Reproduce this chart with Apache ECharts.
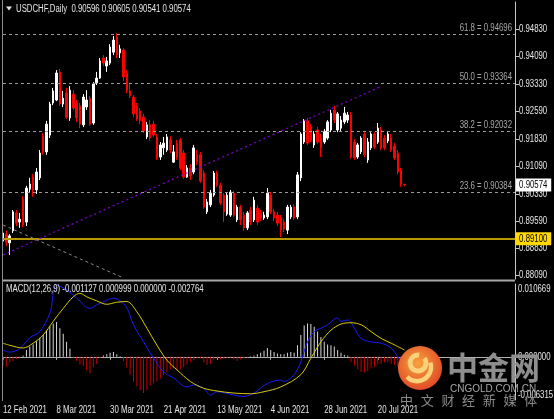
<!DOCTYPE html>
<html><head><meta charset="utf-8">
<script src="https://cdn.jsdelivr.net/npm/echarts@6/dist/echarts.min.js"></script>
<style>html,body{margin:0;padding:0;background:#000;}#c{width:554px;height:419px;}</style>
</head><body><div id="c"></div>
<script>
// ---------- data ----------
const symbolTitle = 'USDCHF,Daily';
const lastOHLC = ['0.90596', '0.90605', '0.90541', '0.90574'];
const startDate = [2021, 1, 12];     // first bar: 12 Feb 2021 (daily, weekdays)
const slotCount = 154;               // bars + empty right margin
const dateLabelEvery = 16;
const lastBarIndex = 120;
// [open, close, low, high]
const candles = [
[0.8904,0.8926,0.8890,0.8937],[0.8923,0.8901,0.8890,0.8932],[0.8899,0.8918,0.8866,0.8923],[0.8932,0.8984,0.8926,0.8989],
[0.8981,0.8953,0.8945,0.8989],[0.8956,0.8964,0.8940,0.8981],[0.9019,0.8948,0.8942,0.9027],[0.8956,0.9049,0.8945,0.9055],
[0.9046,0.9060,0.9038,0.9077],[0.9079,0.9044,0.9025,0.9087],[0.9044,0.9093,0.9033,0.9104],[0.9077,0.9145,0.9071,0.9153],
[0.9191,0.9148,0.9140,0.9200],[0.9148,0.9224,0.9140,0.9233],[0.9194,0.9279,0.9186,0.9285],[0.9282,0.9315,0.9276,0.9323],
[0.9290,0.9364,0.9287,0.9372],[0.9367,0.9279,0.9274,0.9375],[0.9279,0.9295,0.9271,0.9315],[0.9309,0.9243,0.9238,0.9323],
[0.9241,0.9317,0.9233,0.9328],[0.9306,0.9268,0.9263,0.9317],[0.9282,0.9241,0.9230,0.9290],[0.9274,0.9224,0.9213,0.9282],
[0.9222,0.9298,0.9216,0.9306],[0.9271,0.9290,0.9263,0.9317],[0.9295,0.9224,0.9219,0.9301],[0.9227,0.9334,0.9222,0.9339],
[0.9337,0.9350,0.9331,0.9367],[0.9350,0.9397,0.9348,0.9405],[0.9405,0.9391,0.9383,0.9413],[0.9383,0.9397,0.9367,0.9408],
[0.9391,0.9435,0.9386,0.9443],[0.9421,0.9454,0.9413,0.9465],[0.9462,0.9413,0.9405,0.9473],[0.9419,0.9430,0.9405,0.9441],
[0.9427,0.9353,0.9342,0.9432],[0.9364,0.9317,0.9309,0.9372],[0.9315,0.9301,0.9295,0.9337],[0.9298,0.9252,0.9243,0.9304],
[0.9274,0.9238,0.9233,0.9282],[0.9260,0.9233,0.9224,0.9268],[0.9243,0.9205,0.9200,0.9252],[0.9189,0.9222,0.9183,0.9230],
[0.9222,0.9186,0.9178,0.9235],[0.9224,0.9194,0.9189,0.9233],[0.9189,0.9131,0.9126,0.9197],[0.9134,0.9167,0.9126,0.9175],
[0.9159,0.9172,0.9140,0.9189],[0.9153,0.9189,0.9148,0.9197],[0.9181,0.9153,0.9145,0.9191],[0.9120,0.9148,0.9118,0.9167],
[0.9172,0.9134,0.9126,0.9181],[0.9181,0.9104,0.9098,0.9186],[0.9145,0.9079,0.9074,0.9153],[0.9079,0.9104,0.9077,0.9112],
[0.9104,0.9082,0.9071,0.9115],[0.9093,0.9159,0.9087,0.9167],[0.9140,0.9120,0.9112,0.9153],[0.9140,0.9068,0.9063,0.9148],
[0.9090,0.8997,0.8992,0.9098],[0.8984,0.9011,0.8978,0.9019],[0.9003,0.9035,0.8997,0.9044],[0.9030,0.9090,0.9025,0.9096],
[0.9090,0.9057,0.9052,0.9096],[0.9057,0.9008,0.9003,0.9063],[0.9030,0.8984,0.8956,0.9035],[0.8978,0.9030,0.8973,0.9038],
[0.8975,0.9038,0.8970,0.9044],[0.9035,0.8975,0.8970,0.9041],[0.8962,0.8997,0.8956,0.9003],[0.8997,0.8962,0.8948,0.9003],
[0.8975,0.8940,0.8932,0.8984],[0.8940,0.8981,0.8934,0.8986],[0.8989,0.8956,0.8948,0.8997],[0.8962,0.9016,0.8956,0.9025],
[0.8994,0.8956,0.8948,0.9003],[0.8981,0.8967,0.8959,0.8989],[0.8967,0.8975,0.8962,0.8984],[0.8970,0.9035,0.8964,0.9049],
[0.9030,0.8984,0.8978,0.9038],[0.8984,0.8967,0.8959,0.8992],[0.8975,0.8953,0.8945,0.8984],[0.8967,0.8934,0.8915,0.8975],
[0.8956,0.8937,0.8929,0.8964],[0.8934,0.8997,0.8923,0.9003],[0.8970,0.8997,0.8964,0.9003],[0.8997,0.8967,0.8962,0.9005],
[0.8970,0.9085,0.8964,0.9093],[0.9077,0.9197,0.9068,0.9202],[0.9175,0.9233,0.9170,0.9238],[0.9233,0.9172,0.9167,0.9241],
[0.9216,0.9181,0.9175,0.9224],[0.9167,0.9197,0.9159,0.9205],[0.9208,0.9175,0.9170,0.9216],[0.9186,0.9159,0.9134,0.9197],
[0.9175,0.9205,0.9170,0.9211],[0.9186,0.9230,0.9181,0.9235],[0.9208,0.9254,0.9202,0.9263],[0.9263,0.9235,0.9227,0.9274],
[0.9208,0.9252,0.9202,0.9257],[0.9213,0.9235,0.9205,0.9246],[0.9230,0.9254,0.9224,0.9271],[0.9235,0.9249,0.9227,0.9257],
[0.9249,0.9134,0.9129,0.9257],[0.9175,0.9131,0.9126,0.9183],[0.9134,0.9167,0.9129,0.9172],[0.9148,0.9186,0.9142,0.9191],
[0.9197,0.9140,0.9134,0.9202],[0.9126,0.9175,0.9118,0.9186],[0.9159,0.9197,0.9153,0.9202],[0.9197,0.9161,0.9156,0.9202],
[0.9175,0.9213,0.9170,0.9227],[0.9208,0.9159,0.9153,0.9216],[0.9186,0.9159,0.9153,0.9194],[0.9178,0.9197,0.9172,0.9202],
[0.9186,0.9153,0.9148,0.9197],[0.9164,0.9131,0.9126,0.9172],[0.9145,0.9093,0.9087,0.9153],[0.9098,0.9060,0.9052,0.9104],
[0.90596,0.90574,0.90541,0.90605]
];
const priceRange = [0.88001, 0.95583];
const priceTicks = [0.94830, 0.94090, 0.93330, 0.92590, 0.91830, 0.91090, 0.90330, 0.89590, 0.88830, 0.88090];
const fibLevels = [['61.8', 0.94696], ['50.0', 0.93364], ['38.2', 0.92032], ['23.6', 0.90384]];
const supportLevel = 0.89100;
const currentPrice = 0.90574;
const trendLine = [[0, 0.8866], [113, 0.9327]];
const fibBaseLine = [[0, 0.8948], [36, 0.8803]];

const macdTitle = 'MACD(12,26,9) -0.001127 0.000999 0.000000 -0.002764';
const macdRange = [-0.006315, 0.010669];
const macdLabels = [['0.010669', 0.010669, 'top'], ['0.000000', 0, 'middle'], ['-0.006315', -0.006315, 'bottom']];
const macdHist = [
-0.0013,-0.0015,-0.0008,-0.0006,-0.0003,-0.0001,0.0002,0.0010,0.0015,0.0018,
0.0023,0.0028,0.0032,0.0039,0.0045,0.0049,0.0051,0.0042,0.0034,0.0022,
0.0012,-0.0002,-0.0006,-0.0011,-0.0013,-0.0020,-0.0024,-0.0015,-0.0010,-0.0002,
0.0002,0.0004,0.0006,0.0007,0.0004,0.0001,-0.0006,-0.0016,-0.0026,-0.0036,
-0.0043,-0.0049,-0.0053,-0.0049,-0.0042,-0.0039,-0.0036,-0.0032,-0.0027,-0.0023,
-0.0018,-0.0017,-0.0020,-0.0018,-0.0015,-0.0011,-0.0008,-0.0005,-0.0002,-0.0002,
-0.0008,-0.0012,-0.0010,-0.0005,-0.0002,-0.0004,-0.0003,-0.0002,-0.0001,-0.0004,
-0.0006,-0.0004,-0.0002,-0.0001,0.0001,0.0002,0.0004,0.0006,0.0009,0.0013,
0.0010,0.0007,0.0005,0.0004,0.0004,0.0006,0.0007,0.0006,0.0017,0.0032,
0.0046,0.0049,0.0048,0.0044,0.0037,0.0029,0.0022,0.0018,0.0017,0.0015,
0.0010,0.0006,0.0003,0.0002,-0.0008,-0.0013,-0.0018,-0.0022,-0.0023,-0.0021,
-0.0017,-0.0015,-0.0011,-0.0010,-0.0008,-0.0008,-0.0010,-0.0012,-0.0015,-0.0020,
-0.0028
];
const macdMain = [[0,0.0010],[2,0.0007],[5,0.0012],[8,0.0028],[11,0.0037],[14,0.0064],[16,0.0105],[19,0.0098],[22,0.0086],[26,0.0071],[28,0.0076],[31,0.0083],[33,0.0086],[35,0.0082],[37,0.0072],[39,0.0047],[42,0.0022],[45,-0.0002],[48,-0.0022],[51,-0.0031],[55,-0.0044],[57,-0.0041],[60,-0.0046],[62,-0.0056],[64,-0.0051],[69,-0.0056],[72,-0.0058],[75,-0.0053],[79,-0.0039],[83,-0.0034],[84,-0.0036],[87,-0.0026],[89,-0.0007],[91,0.0022],[93,0.0037],[95,0.0042],[97,0.0047],[100,0.0057],[101,0.0052],[103,0.0054],[105,0.0042],[107,0.0027],[110,0.0022],[113,0.0020],[116,0.0013],[118,0.0000],[120,-0.0011]];
const macdSignal = [[0,0.0020],[2,0.0017],[6,0.0013],[9,0.0020],[12,0.0032],[15,0.0052],[18,0.0071],[21,0.0088],[23,0.0093],[25,0.0088],[28,0.0082],[31,0.0077],[34,0.0080],[37,0.0081],[40,0.0066],[43,0.0042],[46,0.0017],[49,-0.0005],[52,-0.0019],[56,-0.0036],[60,-0.0046],[64,-0.0050],[69,-0.0053],[74,-0.0054],[78,-0.0051],[83,-0.0044],[89,-0.0026],[92,-0.0002],[95,0.0022],[98,0.0039],[101,0.0048],[104,0.0050],[107,0.0047],[110,0.0037],[113,0.0027],[116,0.0020],[120,0.0010]];

const watermarkBig = '中金网';
const watermarkUrl = 'CNGOLD.COM.CN';
const watermarkSub = ['中', '文', '财', '经', '新', '媒', '体'];

// ---------- chart ----------
const MONTHS = ['Jan','Feb','Mar','Apr','May','Jun','Jul','Aug','Sep','Oct','Nov','Dec'];
const categories = [];
{
  const d = new Date(Date.UTC(startDate[0], startDate[1], startDate[2]));
  while (categories.length < slotCount) {
    const wd = d.getUTCDay();
    if (wd !== 0 && wd !== 6) categories.push(d.getUTCDate() + ' ' + MONTHS[d.getUTCMonth()] + ' ' + d.getUTCFullYear());
    d.setUTCDate(d.getUTCDate() + 1);
  }
}
const FONT = '"Liberation Sans",Arial,sans-serif';
const SX = 0.78;   // narrow terminal font look
const showDate = (i) => i % dateLabelEvery === 0 && i <= lastBarIndex;

const chart = echarts.init(document.getElementById('c'), null, {renderer: 'canvas'});
const G0 = {left: 3, top: 2, width: 512, height: 277};
const G1 = {left: 3, top: 284, width: 512, height: 116};

const markData = [];
fibLevels.forEach(([lab, v]) => markData.push({
  yAxis: v, lineStyle: {color: '#9a9a9a', type: [3, 3], width: 1}
}));
markData.push({yAxis: supportLevel, lineStyle: {color: '#b89a00', type: 'solid', width: 2}});
markData.push([
  {coord: trendLine[0], lineStyle: {color: '#8a00d8', type: [2, 3], width: 1.2}},
  {coord: trendLine[1]}
]);
markData.push([
  {coord: fibBaseLine[0], lineStyle: {color: '#8a8a8a', type: [3, 3], width: 1}},
  {coord: fibBaseLine[1]}
]);

const option = {
  backgroundColor: '#000000',
  animation: false,
  grid: [G0, G1],
  xAxis: [
    {type: 'category', gridIndex: 0, data: categories, boundaryGap: false,
     axisLine: {show: false}, axisTick: {show: false}, axisLabel: {show: false}, splitLine: {show: false}},
    {type: 'category', gridIndex: 1, data: categories, boundaryGap: false,
     axisLine: {show: true, lineStyle: {color: '#b0b0b0', width: 1}},
     axisTick: {show: true, interval: (i) => showDate(i), length: 3, lineStyle: {color: '#b0b0b0'}},
     axisLabel: {show: false},
     splitLine: {show: false}}
  ],
  yAxis: [
    {type: 'value', gridIndex: 0, position: 'right', min: priceRange[0], max: priceRange[1],
     axisLine: {show: true, lineStyle: {color: '#c8c8c8'}},
     axisTick: {show: true, customValues: priceTicks, length: 4, lineStyle: {color: '#c8c8c8'}},
     axisLabel: {show: false},
     splitLine: {show: false}},
    {type: 'value', gridIndex: 1, position: 'right', min: macdRange[0], max: macdRange[1],
     axisLine: {show: true, lineStyle: {color: '#c8c8c8'}},
     axisTick: {show: false}, axisLabel: {show: false}, splitLine: {show: false}}
  ],
  series: [
    {type: 'candlestick', xAxisIndex: 0, yAxisIndex: 0, data: candles, barWidth: 2,
     itemStyle: {color: '#ffffff', color0: '#ff0000', borderColor: '#ffffff', borderColor0: '#ff0000', borderWidth: 1},
     markLine: {silent: true, symbol: ['none', 'none'], precision: 6, animation: false,
       label: {show: false}, data: markData}},
    {type: 'bar', xAxisIndex: 1, yAxisIndex: 1, barWidth: 1,
     data: macdHist.map(v => ({value: v, itemStyle: {color: v >= 0 ? '#d8d8d8' : '#c80000'}}))},
    {type: 'line', xAxisIndex: 1, yAxisIndex: 1, data: macdMain, smooth: 0.35, showSymbol: false,
     lineStyle: {color: '#1a1aff', width: 1}},
    {type: 'line', xAxisIndex: 1, yAxisIndex: 1, data: macdSignal, smooth: 0.35, showSymbol: false,
     lineStyle: {color: '#d8cc00', width: 1}}
  ]
};
chart.setOption(option);

// texts placed through the axes' scales
const yP = (v) => chart.convertToPixel({yAxisIndex: 0}, v);
const yM = (v) => chart.convertToPixel({yAxisIndex: 1}, v);
const xD = (i) => chart.convertToPixel({xAxisIndex: 1}, i);
const rightX = G1.left + G1.width;
const txt = (x, y, text, opts) => Object.assign({type: 'text', x: x, y: y, scaleX: SX, z: 50,
  style: Object.assign({text: text, fill: '#e6e6e6', font: '10px ' + FONT, verticalAlign: 'middle'}, opts || {})});
const gfx = [
  {type: 'line', shape: {x1: 2.5, y1: 0, x2: 2.5, y2: 401}, style: {stroke: '#8c8c8c', lineWidth: 1}, z: 50},
  {type: 'line', shape: {x1: 3, y1: 280.5, x2: rightX, y2: 280.5}, style: {stroke: '#a8a8a8', lineWidth: 2}, z: 50},
  {type: 'polygon', shape: {points: [[6, 6.5], [12, 6.5], [9, 10.5]]}, style: {fill: '#e6e6e6'}, z: 50},
  txt(16, 9, symbolTitle + '  ' + lastOHLC.join(' ')),
  txt(6, 289, macdTitle)
];
priceTicks.forEach(v => gfx.push(txt(rightX + 4, yP(v), v.toFixed(5), {})));
fibLevels.forEach(([lab, v]) => gfx.push(txt(rightX - 3, yP(v) - 1, lab + ' = ' + v.toFixed(5),
  {fill: '#a8a8a8', align: 'right', verticalAlign: 'bottom'})));
gfx.push(Object.assign(txt(rightX + 1, yP(supportLevel), supportLevel.toFixed(5),
  {fill: '#000', backgroundColor: '#ffd800', padding: [2, 5, 1, 4]}), {z: 60}));
gfx.push(Object.assign(txt(rightX + 1, yP(currentPrice), currentPrice.toFixed(5),
  {fill: '#000', backgroundColor: '#ffffff', padding: [2, 5, 1, 4]}), {z: 60}));
macdLabels.forEach(([t, v, va]) => gfx.push(txt(rightX + 3, yM(v), t, {verticalAlign: va})));
categories.forEach((c, i) => { if (showDate(i)) gfx.push(txt(xD(i), 410, c)); });

// watermark logo
const cx = 420, cy = 368;
gfx.push({type: 'circle', shape: {cx: cx, cy: cy, r: 22}, z: 100,
  style: {fill: new echarts.graphic.RadialGradient(0.45, 0.4, 0.7, [{offset: 0, color: '#f6a43e'}, {offset: 1, color: '#df3d24'}])}});
gfx.push({type: 'arc', shape: {cx: cx - 2, cy: cy - 5, r: 8, startAngle: -Math.PI * 0.2, endAngle: Math.PI * 1.55, clockwise: true},
  style: {stroke: '#fbd27a', lineWidth: 5, fill: null}, z: 101});
gfx.push({type: 'arc', shape: {cx: cx - 3, cy: cy - 1, r: 14, startAngle: -Math.PI * 0.1, endAngle: Math.PI * 0.75, clockwise: true},
  style: {stroke: '#fbd27a', lineWidth: 4.5, fill: null}, z: 101});
gfx.push({type: 'text', x: 447, y: 367, z: 100, style: {text: watermarkBig, fill: '#8e8e8e',
  font: 'bold 31px "Noto Sans CJK SC",sans-serif', verticalAlign: 'middle'}});
gfx.push({type: 'text', x: 450, y: 389, z: 100, style: {text: watermarkUrl, fill: '#a6a6a6',
  font: '10px "Liberation Sans",sans-serif', verticalAlign: 'middle'}});
watermarkSub.forEach((ch, i) => gfx.push({type: 'text', x: 400 + i * 20.7, y: 400, z: 100,
  style: {text: ch, fill: '#8a8a8a', font: '13px "Noto Sans CJK SC",sans-serif', verticalAlign: 'middle'}}));
chart.setOption({graphic: gfx});
</script></body></html>
